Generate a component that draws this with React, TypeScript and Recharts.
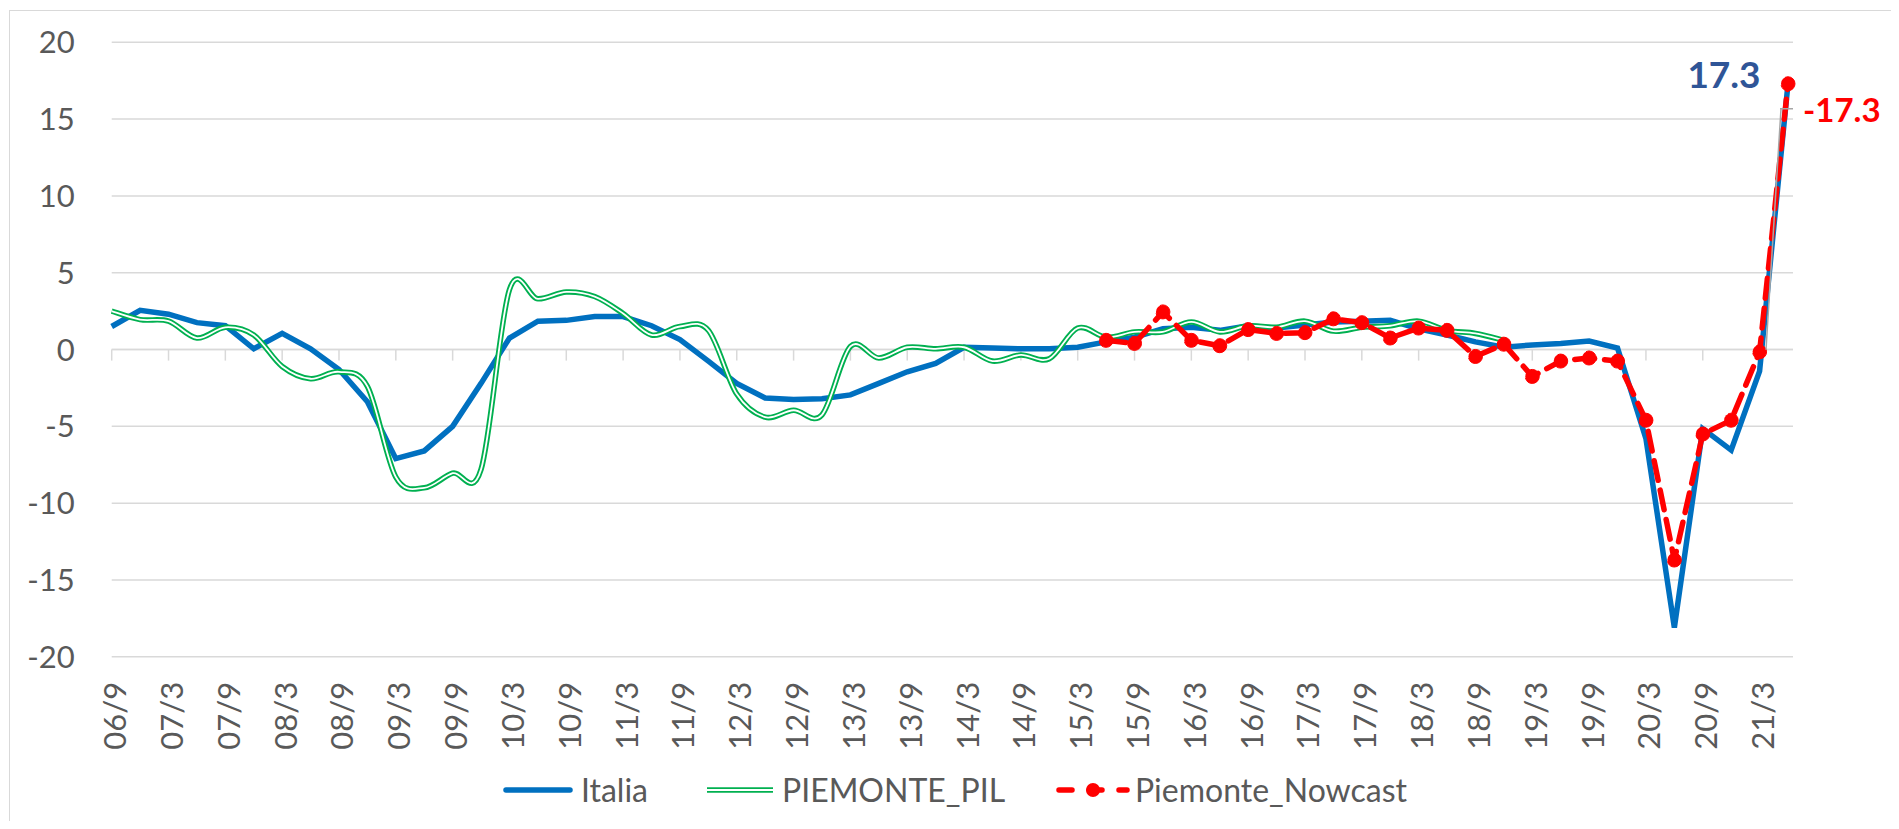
import { LineChart, Line, XAxis, YAxis, CartesianGrid, ReferenceLine, Legend, LabelList } from 'recharts';

const quarters = [
  '06/9', '06/12', '07/3', '07/6', '07/9', '07/12', '08/3', '08/6', '08/9', '08/12',
  '09/3', '09/6', '09/9', '09/12', '10/3', '10/6', '10/9', '10/12', '11/3', '11/6',
  '11/9', '11/12', '12/3', '12/6', '12/9', '12/12', '13/3', '13/6', '13/9', '13/12',
  '14/3', '14/6', '14/9', '14/12', '15/3', '15/6', '15/9', '15/12', '16/3', '16/6',
  '16/9', '16/12', '17/3', '17/6', '17/9', '17/12', '18/3', '18/6', '18/9', '18/12',
  '19/3', '19/6', '19/9', '19/12', '20/3', '20/6', '20/9', '20/12', '21/3', '21/6',
];

const italia = [
  1.5, 2.55, 2.3, 1.75, 1.55, 0.05, 1.05, 0.05, -1.3, -3.4,
  -7.1, -6.6, -5.0, -2.2, 0.75, 1.85, 1.9, 2.15, 2.15, 1.55,
  0.65, -0.75, -2.2, -3.15, -3.25, -3.2, -2.95, -2.2, -1.45, -0.9,
  0.15, 0.1, 0.05, 0.05, 0.15, 0.5, 0.8, 1.35, 1.45, 1.25,
  1.55, 1.4, 1.6, 1.8, 1.85, 1.9, 1.35, 0.95, 0.5, 0.15,
  0.3, 0.4, 0.55, 0.1, -5.8, -18.1, -5.15, -6.55, -1.4, 17.3,
];

// regional GDP, available up to 18/12
const piemontePil = [
  2.5, 1.95, 1.85, 0.75, 1.45, 0.95, -1.1, -1.9, -1.45, -2.4,
  -8.3, -9.0, -8.05, -7.8, 3.9, 3.3, 3.75, 3.45, 2.35, 0.95,
  1.5, 1.25, -2.9, -4.4, -3.95, -4.25, 0.2, -0.55, 0.15, 0.05,
  0.15, -0.75, -0.35, -0.6, 1.4, 0.8, 1.15, 1.15, 1.8, 1.15,
  1.55, 1.45, 1.85, 1.2, 1.45, 1.55, 1.85, 1.25, 1.05, 0.6,
];

// nowcast starts at 15/6
const nowcastStart = 35;
const piemonteNowcast = [
  0.6, 0.4, 2.45, 0.6, 0.25, 1.3, 1.05, 1.1, 2.0, 1.75,
  0.75, 1.4, 1.25, -0.45, 0.35, -1.75, -0.75, -0.55, -0.75, -4.6,
  -13.7, -5.5, -4.6, -0.15, 17.3,
];

const yTicks = [-20, -15, -10, -5, 0, 5, 10, 15, 20];

const data = quarters.map((q, i) => ({
  q,
  italia: italia[i],
  pil: i < piemontePil.length ? piemontePil[i] : null,
  nowcast: i >= nowcastStart ? piemonteNowcast[i - nowcastStart] : null,
}));

const FONT = 'Lato, "Open Sans", sans-serif';
const GREY_TEXT = '#595959';
const GRID = '#D9D9D9';

// excel-like smoothed line (catmull-rom through the points)
function excelSmooth(context: any) {
  let pts: number[][] = [];
  return {
    areaStart() {},
    areaEnd() {},
    lineStart() {
      pts = [];
    },
    lineEnd() {
      if (!pts.length) return;
      context.moveTo(pts[0][0], pts[0][1]);
      for (let i = 0; i < pts.length - 1; i++) {
        const p0 = pts[i - 1] || pts[i];
        const p1 = pts[i];
        const p2 = pts[i + 1];
        const p3 = pts[i + 2] || p2;
        context.bezierCurveTo(
          p1[0] + (p2[0] - p0[0]) / 6, p1[1] + (p2[1] - p0[1]) / 6,
          p2[0] - (p3[0] - p1[0]) / 6, p2[1] - (p3[1] - p1[1]) / 6,
          p2[0], p2[1]
        );
      }
    },
    point(x: number, y: number) {
      pts.push([+x, +y]);
    },
  };
}

const XTick = (props: any) => {
  const { x, y, payload } = props;
  return (
    <g transform={`translate(${x},${y})`}>
      <text transform="rotate(-90)" x={-25} y={14.5} textAnchor="end" fill={GREY_TEXT} fontSize={31} fontFamily={FONT}>
        {payload.value}
      </text>
    </g>
  );
};

const YTick = (props: any) => {
  const { x, y, payload } = props;
  return (
    <text x={x - 37} y={y} dy={11} textAnchor="end" fill={GREY_TEXT} fontSize={31} fontFamily={FONT}>
      {payload.value}
    </text>
  );
};

const italiaLabel = (props: any) => {
  const { x, y, index, value } = props;
  if (index !== quarters.length - 1) return null;
  return (
    <text x={x - 64} y={y + 4.5} textAnchor="middle" fill="#2F5597" fontSize={37} fontWeight={700} fontFamily={FONT}>
      {value}
    </text>
  );
};

const nowcastLabel = (props: any) => {
  const { x, y, index, value } = props;
  if (index !== quarters.length - 1) return null;
  return (
    <g>
      <path d={`M${x - 8},${y + 25} L${x + 5},${y + 25} M${x - 7},${y + 25} L${x - 22},${y + 266}`} stroke="#A6A6A6" strokeWidth={1.5} fill="none" />
      <text x={x + 15} y={y + 38} fill="#FF0000" fontSize={33} fontWeight={700} fontFamily={FONT}>
        {'-' + value}
      </text>
    </g>
  );
};

const renderLegend = () => (
  <svg width={1884} height={50} style={{ display: 'block' }}>
    <line x1={496} y1={25} x2={560} y2={25} stroke="#0070C0" strokeWidth={5.5} strokeLinecap="round" />
    <text x={571} y={36.5} fill={GREY_TEXT} fontSize={32} fontFamily={FONT}>Italia</text>
    <line x1={697} y1={25} x2={763} y2={25} stroke="#00B050" strokeWidth={5.5} />
    <line x1={697} y1={25} x2={763} y2={25} stroke="#FFFFFF" strokeWidth={1.8} />
    <text x={772} y={36.5} fill={GREY_TEXT} fontSize={32} fontFamily={FONT}>PIEMONTE_PIL</text>
    <line x1={1049} y1={25} x2={1117} y2={25} stroke="#FF0000" strokeWidth={5.5} strokeDasharray="13 17" strokeLinecap="round" />
    <circle cx={1083} cy={25} r={7} fill="#FF0000" />
    <text x={1125} y={36.5} fill={GREY_TEXT} fontSize={32} fontFamily={FONT}>Piemonte_Nowcast</text>
  </svg>
);

export default function App() {
  return (
    <div
      style={{
        position: 'relative',
        left: 1,
        top: 2,
        width: 1886,
        height: 813,
        boxSizing: 'border-box',
        border: '1px solid #D9D9D9',
        background: '#fff',
      }}
    >
      <LineChart width={1884} height={811} data={data} margin={{ top: 31.3, right: 101, left: 31.7, bottom: 55.2 }}>
        <CartesianGrid vertical={false} stroke={GRID} strokeWidth={1.5} />
        <XAxis
          dataKey="q"
          interval={1}
          height={110}
          padding={{ left: 0, right: 5 }}
          axisLine={false}
          tickLine={false}
          tickSize={0}
          tickMargin={0}
          tick={<XTick />}
        />
        <YAxis
          domain={[-20, 20]}
          ticks={yTicks}
          width={70}
          axisLine={false}
          tickLine={false}
          tickSize={0}
          tickMargin={0}
          tick={<YTick />}
        />
        <ReferenceLine y={0} stroke={GRID} strokeWidth={1.5} />
        {quarters.map((q, i) =>
          i % 2 === 0 ? (
            <ReferenceLine
              key={q}
              segment={[{ x: q, y: 0 }, { x: q, y: -0.72 }]}
              stroke={GRID}
              strokeWidth={1.5}
              ifOverflow="visible"
            />
          ) : null
        )}
        <Line
          dataKey="italia"
          name="Italia"
          type="linear"
          stroke="#0070C0"
          strokeWidth={5.5}
          dot={false}
          isAnimationActive={false}
        >
          <LabelList dataKey="italia" content={italiaLabel} />
        </Line>
        <Line
          dataKey="pil"
          name="PIEMONTE_PIL"
          type={excelSmooth as any}
          stroke="#00B050"
          strokeWidth={5.5}
          dot={false}
          isAnimationActive={false}
        />
        <Line
          dataKey="pil"
          name="PIEMONTE_PIL_inner"
          type={excelSmooth as any}
          stroke="#FFFFFF"
          strokeWidth={1.8}
          dot={false}
          legendType="none"
          isAnimationActive={false}
        />
        <Line
          dataKey="nowcast"
          name="Piemonte_Nowcast"
          type="linear"
          stroke="#FF0000"
          strokeWidth={5.5}
          strokeDasharray="20 10"
          strokeLinecap="round"
          dot={{ r: 7, fill: '#FF0000', stroke: '#FF0000', strokeWidth: 1 }}
          isAnimationActive={false}
        >
          <LabelList dataKey="nowcast" content={nowcastLabel} />
        </Line>
        <Legend
          layout="horizontal"
          verticalAlign="middle"
          align="center"
          content={renderLegend}
          wrapperStyle={{ top: 754, left: 0, width: 1884, height: 50 }}
        />
      </LineChart>
    </div>
  );
}
